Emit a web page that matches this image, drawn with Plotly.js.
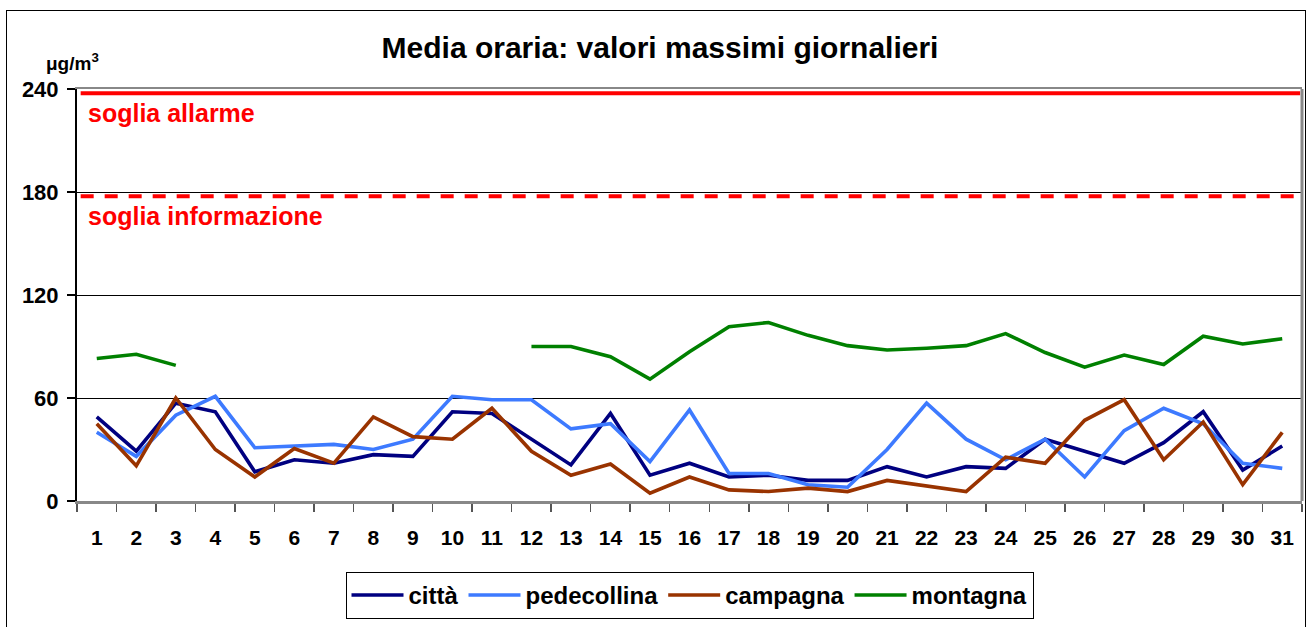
<!DOCTYPE html>
<html>
<head>
<meta charset="utf-8">
<script src="https://cdn.plot.ly/plotly-3.0.1.min.js"></script>
<style>
  html, body { margin: 0; padding: 0; background: #fff; }
  #wrap { position: relative; width: 1308px; height: 627px; overflow: hidden; }
  #chart { position: absolute; left: 0; top: 0; width: 1308px; height: 627px; }
  #frame { position: absolute; left: 6px; top: 10px; width: 1298px; height: 640px; border: 1.5px solid #000; pointer-events: none; }
</style>
</head>
<body>
<div id="wrap">
  <div id="chart"></div>
  <div id="frame"></div>
</div>
<script>
// ---- data ----
const days = ["1","2","3","4","5","6","7","8","9","10","11","12","13","14","15","16","17","18","19","20","21","22","23","24","25","26","27","28","29","30","31"];
const citta = [49,29,57,52,17,24,22,27,26,52,51,36,21,51,15,22,14,15,12,12,20,14,20,19,36,29,22,34,52,18,32];
const pedecollina = [40,26,50,61,31,32,33,30,36,61,59,59,42,45,23,53,16,16,9.5,8,30,57,36,24,36,14,41,54,45,22,19];
const campagna = [45,20.5,60,30,14,30.5,22,49,37.5,36,54,29,15,21.5,4.5,14,6.5,5.5,7.5,5.5,12,9,5.5,25.5,22,47,59,24,46,9.5,40];
const montagna = [83,85.5,79,null,null,null,null,null,null,null,null,90,90,84,71,87,101.5,104,96.5,90.5,88,89,90.5,97.5,86.5,78,85,79.5,96,91.5,94.5];
const seriesNames = ["città","pedecollina","campagna","montagna"];
const seriesColors = ["#000080","#3D7AFF","#993300","#008000"];
const thresholdValues = [237.5, 177.5];
const thresholdLabels = ["soglia allarme","soglia informazione"];
const yTicks = [0,60,120,180,240];

const FONT = "Arial, 'Liberation Sans', sans-serif";
const seriesData = [citta, pedecollina, campagna, montagna];

const traces = seriesData.map((vals, i) => ({
  type: "scatter",
  mode: "lines",
  x: days,
  y: vals,
  name: seriesNames[i],
  connectgaps: false,
  line: { color: seriesColors[i], width: 3.6 },
  hoverinfo: "x+y+name"
}));

const shapes = [
  { type: "line", xref: "paper", yref: "y", x0: 0.003, x1: 0.9985, y0: thresholdValues[0], y1: thresholdValues[0],
    line: { color: "#FF0000", width: 4 } },
  { type: "line", xref: "paper", yref: "y", x0: 0.003, x1: 0.9985, y0: thresholdValues[1], y1: thresholdValues[1],
    line: { color: "#FF0000", width: 4, dash: "13px,11px" } },
  { type: "line", xref: "paper", yref: "paper", x0: 1, x1: 1, y0: 0, y1: 1,
    line: { color: "#888888", width: 3 } }
];

const annotations = [
  { xref: "paper", yref: "y", x: 0.007, y: thresholdValues[0], xanchor: "left", yanchor: "top", yshift: -4,
    text: thresholdLabels[0], showarrow: false, font: { family: FONT, size: 25, color: "#FF0000", weight: "bold" } },
  { xref: "paper", yref: "y", x: 0.007, y: thresholdValues[1], xanchor: "left", yanchor: "top", yshift: -4,
    text: thresholdLabels[1], showarrow: false, font: { family: FONT, size: 25, color: "#FF0000", weight: "bold" } },
  { xref: "paper", yref: "paper", x: -0.027, y: 1.066, xanchor: "left", yanchor: "middle",
    text: "μg/m<sup>3</sup>", showarrow: false, font: { family: FONT, size: 19, color: "#000", weight: "bold" } }
];

const layout = {
  width: 1308, height: 627,
  margin: { l: 77, r: 6, t: 89, b: 126 },
  paper_bgcolor: "#fff", plot_bgcolor: "#fff",
  title: { text: "Media oraria: valori massimi giornalieri", x: 660/1308, xref: "container", xanchor: "center",
           y: 1 - 47/627, yref: "container", yanchor: "middle",
           font: { family: FONT, size: 30, color: "#000", weight: "bold" } },
  xaxis: {
    type: "category", range: [-0.5, 30.5], tickson: "boundaries", ticks: "outside", ticklen: 8, tickwidth: 1.5, tickcolor: "#555",
    showline: true, linecolor: "#888", linewidth: 2.5, mirror: true, showgrid: false, zeroline: false,
    tickfont: { family: FONT, size: 21, color: "#000", weight: "bold" }, ticklabelstandoff: 16, fixedrange: true
  },
  yaxis: {
    range: [0, 240], tickvals: yTicks, ticktext: yTicks.map(String), ticks: "outside", ticklen: 8, tickwidth: 1.5,
    tickcolor: "#000", showline: true, linecolor: "#000", linewidth: 2, showgrid: true, gridcolor: "#000",
    gridwidth: 1, zeroline: false, tickfont: { family: FONT, size: 22, color: "#000", weight: "bold" },
    ticklabelstandoff: 4, fixedrange: true
  },
  showlegend: true,
  legend: {
    orientation: "h", x: 0.5, xanchor: "center", xref: "paper", y: -0.172, yanchor: "top",
    bordercolor: "#000", borderwidth: 1, bgcolor: "#fff", itemwidth: 52,
    font: { family: FONT, size: 24, color: "#000", weight: "bold" }, tracegroupgap: 0
  },
  shapes: shapes,
  annotations: annotations
};

Plotly.newPlot("chart", traces, layout, { displayModeBar: false, staticPlot: true });
</script>
</body>
</html>
